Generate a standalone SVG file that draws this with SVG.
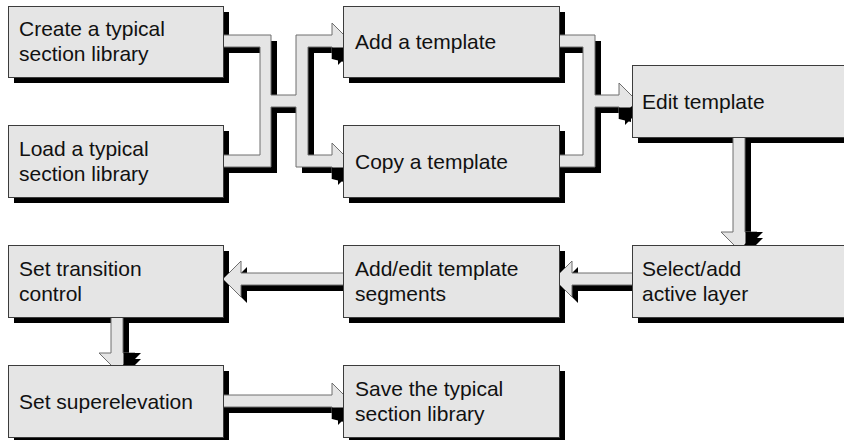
<svg xmlns="http://www.w3.org/2000/svg" xmlns:xlink="http://www.w3.org/1999/xlink" width="844" height="440" viewBox="0 0 844 440">
<style>
.bg{fill:#ffffff}
.sh{fill:#000000;stroke:none}
.box{fill:#e5e5e5;stroke:#3c3c3c;stroke-width:1}
.band{fill:#e5e5e5;stroke:#6e6e6e;stroke-width:1;stroke-linejoin:miter}
.bshadow{fill:#000000;stroke:none}
.barb{fill:#000000;stroke:none}
text{font-family:"Liberation Sans",Arial,sans-serif;font-size:21px;fill:#111111}
</style>
<defs>
<path id="c1p" d="M223,35 L271,35 L271,95 L296,95 L296,35 L332,35 L332,23 L350,41 L332,59 L332,47 L308,47 L308,155 L332,155 L332,143 L350,161 L332,179 L332,167 L296,167 L296,107 L271,107 L271,167 L223,167 L223,155 L260,155 L260,47 L223,47 Z"/>
<path id="c2p" d="M559,35 L595,35 L595,95 L619,95 L619,83 L637,101 L619,119 L619,107 L595,107 L595,167 L559,167 L559,155 L583,155 L583,47 L559,47 Z"/>
<path id="c3p" d="M733,136 L745,136 L745,232 L757,232 L739,250 L721,232 L733,232 Z"/>
<path id="c4p" d="M633,273 L572,273 L572,261 L554,279 L572,297 L572,285 L633,285 Z"/>
<path id="c5p" d="M344,273 L241,273 L241,261 L223,279 L241,297 L241,285 L344,285 Z"/>
<path id="c6p" d="M111,316 L123,316 L123,353 L135,353 L117,371 L99,353 L111,353 Z"/>
<path id="c7p" d="M222,395 L332,395 L332,383 L350,401 L332,419 L332,407 L222,407 Z"/>
</defs>
<rect class="bg" x="0" y="0" width="844" height="440"/>

<g id="box-shadows">
<rect class="sh" x="14" y="12" width="215" height="71"/>
<rect class="sh" x="14" y="131" width="215" height="72"/>
<rect class="sh" x="349" y="12" width="216" height="71"/>
<rect class="sh" x="349" y="131" width="216" height="72"/>
<rect class="sh" x="638" y="71" width="216" height="72"/>
<rect class="sh" x="638" y="251" width="216" height="72"/>
<rect class="sh" x="14" y="251" width="215" height="72"/>
<rect class="sh" x="349" y="251" width="216" height="72"/>
<rect class="sh" x="14" y="371" width="215" height="72"/>
<rect class="sh" x="349" y="371" width="216" height="72"/>
</g>

<g id="connectors">
<use xlink:href="#c1p" class="bshadow" transform="translate(6,6)"/>
<use xlink:href="#c2p" class="bshadow" transform="translate(6,6)"/>
<use xlink:href="#c3p" class="bshadow" transform="translate(6,6)"/>
<use xlink:href="#c4p" class="bshadow" transform="translate(6,6)"/>
<use xlink:href="#c5p" class="bshadow" transform="translate(6,6)"/>
<use xlink:href="#c6p" class="bshadow" transform="translate(6,6)"/>
<use xlink:href="#c7p" class="bshadow" transform="translate(6,6)"/>
<use xlink:href="#c1p" class="band"/>
<use xlink:href="#c2p" class="band"/>
<use xlink:href="#c3p" class="band"/>
<use xlink:href="#c4p" class="band"/>
<use xlink:href="#c5p" class="band"/>
<use xlink:href="#c6p" class="band"/>
<use xlink:href="#c7p" class="band"/>
<polygon class="barb" points="332,47.5 332,59 344,62 344,47.5"/>
<polygon class="barb" points="332,167.5 332,179 344,182 344,167.5"/>
<polygon class="barb" points="619,107.5 619,119 631,122 631,107.5"/>
<polygon class="barb" points="745.5,232 763,232 745.5,249.5"/>
<polygon class="barb" points="123.5,353 141,353 123.5,370.5"/>
<polygon class="barb" points="332,407.5 332,419 344,422 344,407.5"/>
</g>

<g id="node-create">
<rect class="box" x="8.5" y="6.5" width="215" height="71"/>
<text x="19" y="36">Create a typical</text>
<text x="19" y="61">section library</text>
</g>
<g id="node-load">
<rect class="box" x="8.5" y="125.5" width="215" height="72"/>
<text x="19" y="155.5">Load a typical</text>
<text x="19" y="180.5">section library</text>
</g>
<g id="node-add">
<rect class="box" x="343.5" y="6.5" width="216" height="71"/>
<text x="355" y="48.5">Add a template</text>
</g>
<g id="node-copy">
<rect class="box" x="343.5" y="125.5" width="216" height="72"/>
<text x="355" y="168.5">Copy a template</text>
</g>
<g id="node-edit">
<rect class="box" x="632.5" y="65.5" width="216" height="72"/>
<text x="642" y="108.5">Edit template</text>
</g>
<g id="node-select">
<rect class="box" x="632.5" y="245.5" width="216" height="72"/>
<text x="642" y="275.5">Select/add</text>
<text x="642" y="300.5">active layer</text>
</g>
<g id="node-addedit">
<rect class="box" x="343.5" y="245.5" width="216" height="72"/>
<text x="355" y="275.5">Add/edit template</text>
<text x="355" y="300.5">segments</text>
</g>
<g id="node-transition">
<rect class="box" x="8.5" y="245.5" width="215" height="72"/>
<text x="19" y="275.5">Set transition</text>
<text x="19" y="300.5">control</text>
</g>
<g id="node-superelevation">
<rect class="box" x="8.5" y="365.5" width="215" height="72"/>
<text x="19" y="408.5">Set superelevation</text>
</g>
<g id="node-save">
<rect class="box" x="343.5" y="365.5" width="216" height="72"/>
<text x="355" y="395.5">Save the typical</text>
<text x="355" y="420.5">section library</text>
</g>
</svg>
